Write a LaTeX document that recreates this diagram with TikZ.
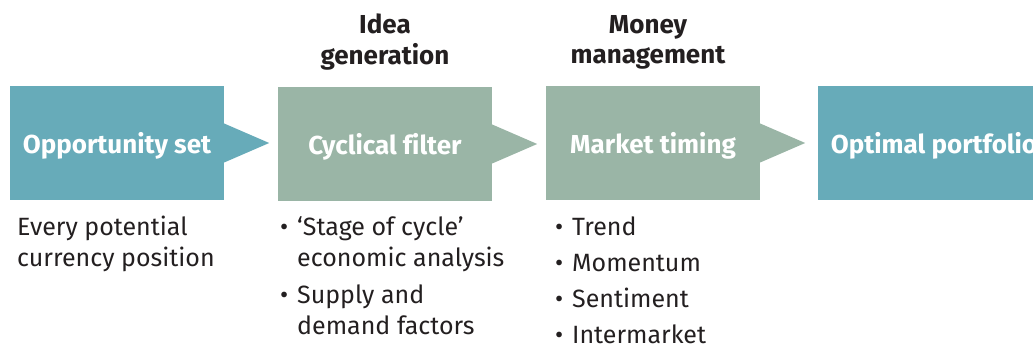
\documentclass[tikz,border=0pt]{standalone}
\usepackage{fontspec}
\setmainfont{Fira Sans}[Ligatures=CommonOff]
\usetikzlibrary{positioning}

\definecolor{tealbox}{HTML}{67ABB9}
\definecolor{sagebox}{HTML}{9AB5A6}
\definecolor{ink}{HTML}{231F20}

\newcommand{\bul}{\makebox[17pt][l]{•}}
\newcommand{\topstrut}{\vrule height 21.7pt width 0pt}
% pointer triangle on the right side of a stage box
\newcommand{\pointer}[2]{\fill[#2] ([yshift=19.5pt]#1.east) -- ([xshift=45pt]#1.east) -- ([yshift=-19.5pt]#1.east) -- cycle;}

\tikzset{
  stage/.style={minimum width=214pt, minimum height=114pt, inner sep=0pt, text height=22pt, text depth=0pt, text=white, font=\fontsize{26}{30}\selectfont\bfseries},
  head/.style={anchor=north, align=center, inner sep=0pt, text=ink, font=\fontsize{26}{30}\selectfont\bfseries},
  note/.style={anchor=north west, align=left, inner sep=0pt, text=ink, font=\fontsize{25}{31}\selectfont},
}

\begin{document}
\begin{tikzpicture}[x=1pt, y=-1pt]
  \useasboundingbox (0,0) rectangle (1033,347);
  \clip (0,0) rectangle (1033,347);

  % stages
  \node[stage, fill=tealbox] (opp) at (117,143) {Opportunity set};
  \node[stage, fill=sagebox] (cyc) at (385,144) {Cyclical filter};
  \node[stage, fill=sagebox] (mkt) at (653,143) {Market timing};
  \node[stage, fill=tealbox, minimum width=232pt] (opt) at (934,143) {Optimal portfolio};
  \pointer{opp}{tealbox}
  \pointer{cyc}{sagebox}
  \pointer{mkt}{sagebox}

  % headings
  \node[head] (idea) at (385,12) {\strut Idea\\\strut generation};
  \node[head] (money) at (648,12) {\strut Money\\\strut management};

  % notes below the stages
  \node[note] (every) at (17,214) {\strut Every potential\\\strut currency position};
  \node[note] (cyc1) at (280,214) {\strut\bul`Stage of cycle'\\\strut\hspace*{17pt}economic analysis};
  \node[note] (cyc2) at (280,282) {\strut\bul Supply and\\\strut\hspace*{17pt}demand factors};
  \foreach \t [count=\i] in {Trend,Momentum,Sentiment,Intermarket}
    \node[note] (mkt\i) at (555,{178+36*\i}) {\topstrut\bul\t};
\end{tikzpicture}
\end{document}
